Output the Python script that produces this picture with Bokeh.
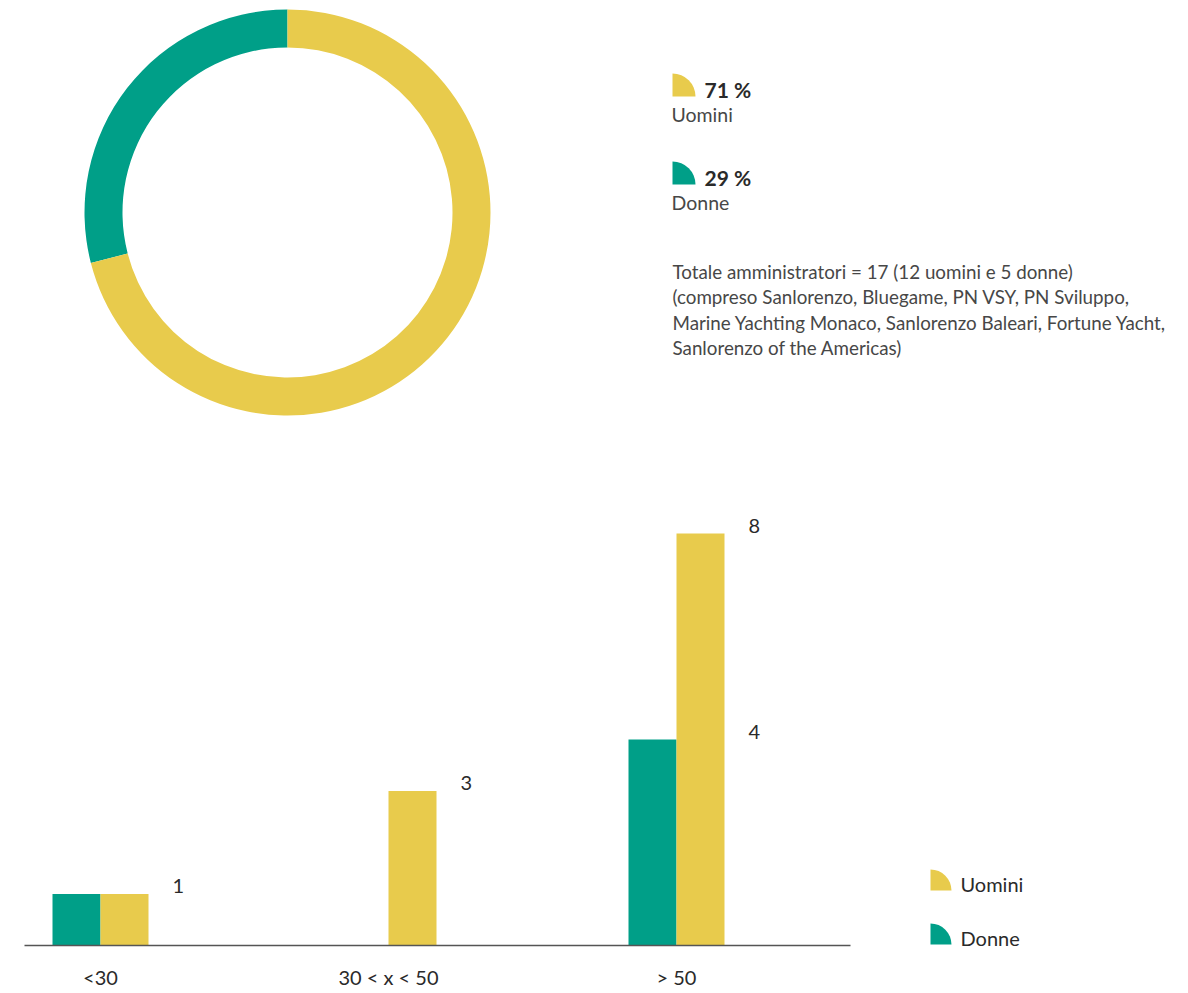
from bokeh.plotting import figure
from bokeh.models import Range1d
from bokeh.layouts import column
from bokeh.embed import file_html
from bokeh.resources import INLINE
from bokeh.core.properties import value
import numpy as np

FONT = "Lato"
YELLOW = "#E8CB4C"
TEAL = "#009F88"
DARK = "#2a2a2a"
GREY = "#474747"

# ---------------- data ----------------
gender_names = ["Uomini", "Donne"]
gender_pct = [71, 29]
gender_colors = [YELLOW, TEAL]

note_lines = [
    "Totale amministratori = 17 (12 uomini e 5 donne)",
    "(compreso Sanlorenzo, Bluegame, PN VSY, PN Sviluppo,",
    "Marine Yachting Monaco, Sanlorenzo Baleari, Fortune Yacht,",
    "Sanlorenzo of the Americas)",
]

age_groups = ["<30", "30 < x < 50", "> 50"]
men = [1, 3, 8]
women = [1, 0, 4]

# ---------------- layout constants (page pixels) ----------------
W = 1188
H_TOP = 455
H_BOT = 993 - H_TOP
CAT_PX = 288.0      # px per category
UNIT_PX = 51.5      # px per unit of value
BAR_PX = 48.0
BASE = 945          # page y of the bar baseline
CAT0 = 100          # page x of first category centre

# ---------------- top: donut ----------------
top = figure(width=W, height=H_TOP, x_range=Range1d(0, W),
             y_range=Range1d(-H_TOP, 0), min_border=0,
             x_axis_location=None, y_axis_location=None,
             output_backend="svg", toolbar_location=None)
top.grid.visible = False
top.outline_line_color = None

# donut: Donne counter-clockwise from top, Uomini the rest
order = [1, 0]
vals = np.array([gender_pct[i] for i in order], dtype=float)
frac = vals / vals.sum()
ends = np.pi / 2 + 2 * np.pi * np.cumsum(frac)
starts = ends - 2 * np.pi * frac
top.annular_wedge(x=287, y=-212, inner_radius=165, outer_radius=203,
                  start_angle=starts, end_angle=ends,
                  color=[gender_colors[i] for i in order], line_color=None)

# top legend
leg_y = [-96, -184]
top.wedge(x=[672, 672], y=leg_y, radius=23, start_angle=0, end_angle=np.pi / 2,
          color=gender_colors, line_color=None)
top.text(x=[704, 704], y=[y + 7 for y in leg_y], text=[f"{v} %" for v in gender_pct],
         text_font=value(FONT), text_font_style="bold", text_font_size="21px",
         text_color=DARK, text_baseline="alphabetic")
top.text(x=[671, 671], y=[y - 18 for y in leg_y], text=gender_names,
         text_font=value(FONT), text_font_size="19.5px",
         text_color=GREY, text_baseline="alphabetic")

# note
top.text(x=[672] * len(note_lines), y=[-271 - 25.3 * i for i in range(len(note_lines))],
         text=note_lines, text_font=value(FONT), text_font_size="18.8px",
         text_color=GREY, text_baseline="alphabetic")

# ---------------- bottom: bars ----------------
bot = figure(width=W, height=H_BOT,
             x_range=Range1d((0 - CAT0) / CAT_PX, (W - CAT0) / CAT_PX),
             y_range=Range1d(-(993 - BASE) / UNIT_PX, (BASE - H_TOP) / UNIT_PX),
             min_border=0, x_axis_location=None, y_axis_location=None,
             output_backend="svg", toolbar_location=None)
bot.grid.visible = False
bot.outline_line_color = None
bot.extra_x_ranges = {"px": Range1d(0, W)}
bot.extra_y_ranges = {"px": Range1d(-993, -H_TOP)}

xi = np.arange(len(age_groups))
off = BAR_PX / 2 / CAT_PX
bot.vbar(x=xi - off, top=women, bottom=0, width=BAR_PX / CAT_PX, color=TEAL, line_color=None)
bot.vbar(x=xi + off, top=men, bottom=0, width=BAR_PX / CAT_PX, color=YELLOW, line_color=None)

# baseline
bot.segment(x0=[24], x1=[850], y0=[-BASE], y1=[-BASE],
            line_color="#555555", line_width=1.5,
            x_range_name="px", y_range_name="px")

# value labels (baseline slightly above the bar top)
lift = 8 / UNIT_PX
lx, ly, lt = [], [], []
for i in range(len(age_groups)):
    lx.append(i + 2 * off + 24 / CAT_PX); ly.append(men[i] + lift); lt.append(str(men[i]))
    if women[i] > 0 and women[i] != men[i]:
        lx.append(i + 2 * off + 24 / CAT_PX); ly.append(women[i] + lift); lt.append(str(women[i]))
bot.text(x=lx, y=ly, text=lt, text_font=value(FONT), text_font_size="20px",
         text_color=DARK, text_baseline="alphabetic", text_align="left")

# category labels (x axis)
bot.text(x=xi, y=[-31 / UNIT_PX] * len(age_groups), text=age_groups,
         text_font=value(FONT), text_font_size="20px", text_color=DARK,
         text_baseline="middle", text_align="center")

# bottom legend
bl_y = [-890, -944]
bot.wedge(x=[930, 930], y=bl_y, radius=21, start_angle=0, end_angle=np.pi / 2,
          color=gender_colors, line_color=None, x_range_name="px", y_range_name="px")
bot.text(x=[960, 960], y=[y + 7 for y in bl_y], text=gender_names,
         text_font=value(FONT), text_font_size="20px", text_color=DARK,
         text_baseline="alphabetic", x_range_name="px", y_range_name="px")

layout = column(top, bot, spacing=0)
open("out.html", "w").write(file_html(layout, INLINE))
